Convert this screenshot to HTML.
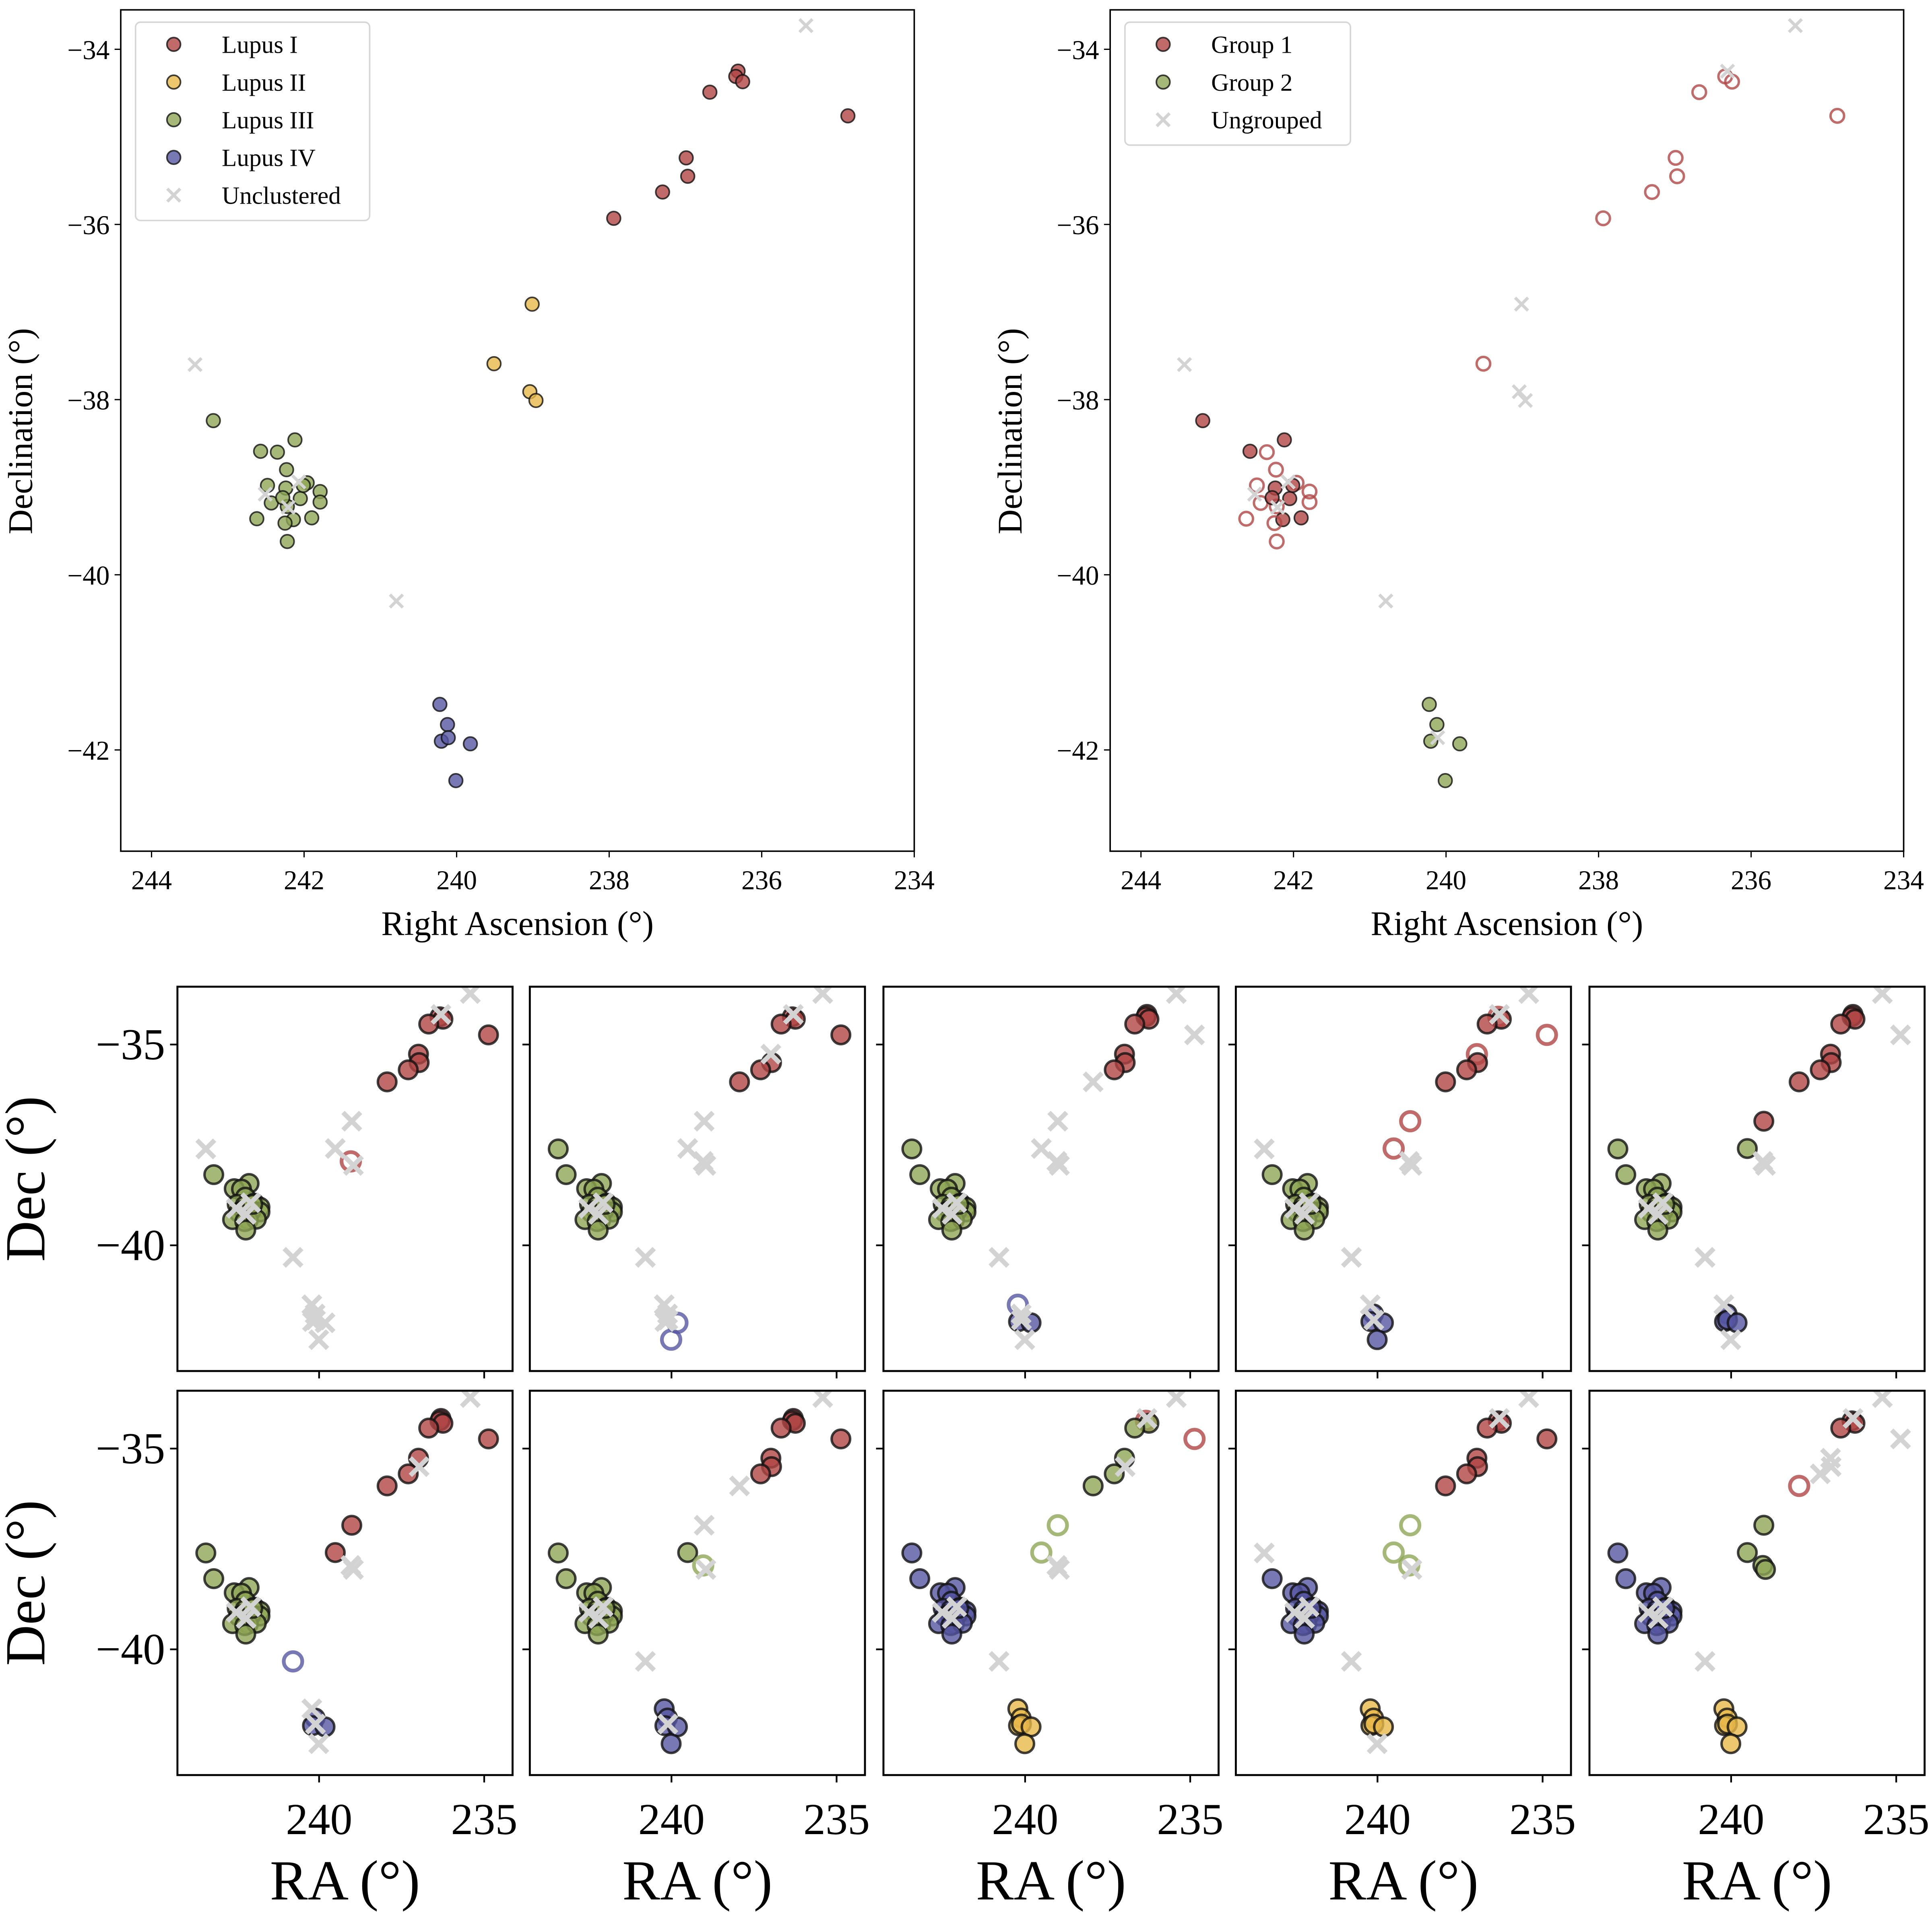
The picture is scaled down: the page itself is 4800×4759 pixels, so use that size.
<!DOCTYPE html>
<html><head><meta charset="utf-8"><style>
html,body{margin:0;padding:0;background:#fff}
svg{display:block}
text{font-family:"Liberation Serif",serif;fill:#000}
</style></head><body>
<svg id="fig" xmlns="http://www.w3.org/2000/svg" width="4800" height="4759" viewBox="0 0 1568 1554.6">
<rect width="1568" height="1554.6" fill="#fff"/>
<g id="layer"></g>
</svg>
<script>
// star coordinates (deg)
const ra = [236.31,236.34,236.25,236.68,234.87,236.99,236.97,237.30,237.94,
  239.01,239.51,239.04,238.96,
  243.19,242.12,242.57,242.35,242.23,242.48,242.24,241.96,241.79,241.79,242.05,242.43,242.22,242.28,242.62,242.14,242.25,241.90,242.22,242.01,
  242.51,242.07,242.21,
  240.22,240.12,240.20,240.11,239.82,240.01,
  235.42,243.43,240.79];
const dec = [-34.25,-34.31,-34.37,-34.49,-34.76,-35.24,-35.45,-35.63,-35.93,
  -36.91,-37.59,-37.91,-38.01,
  -38.24,-38.46,-38.59,-38.60,-38.80,-38.98,-39.01,-38.95,-39.05,-39.17,-39.13,-39.18,-39.22,-39.12,-39.36,-39.37,-39.41,-39.35,-39.62,-38.98,
  -39.08,-38.94,-39.23,
  -41.48,-41.71,-41.90,-41.86,-41.93,-42.35,
  -33.73,-37.60,-40.30];
// per-panel labels: r/y/g/b filled, R/Y/G/B hollow, x cross
const g20 = "gggggggggggggggggggg", b20 = "bbbbbbbbbbbbbbbbbbbb";
const labelsTopLeft = "rrrrrrrrr"+"yyyy"+g20+"xxx"+"bbbbbb"+"xxx";
const labelsTopRight = "xRRRRRRRR"+"xRxx"+"rrrRRRrRRRrRRrRrRrRr"+"xxx"+"gggxgg"+"xxx";
const labelsGrid = [
  "xrrrrrrrr"+"xxRx"+g20+"xxx"+"xxxxxx"+"xxx",
  "xrrrrxrrr"+"xxxx"+g20+"xxx"+"xxxxBB"+"xgx",
  "rrrrxrrrx"+"xxxx"+g20+"xxx"+"Bxbxbx"+"xgx",
  "xRrrRRrrr"+"RRxx"+g20+"xxx"+"xbbxbb"+"xxx",
  "rrrrxrrrr"+"rgxx"+g20+"xxx"+"xbbbbx"+"xgx",
  "rrrrrrxrr"+"rrxx"+g20+"xxx"+"xbbxbx"+"xgB",
  "rrrrrrrrx"+"xgGx"+g20+"xxx"+"bbbxbb"+"xgx",
  "xRggRgxgg"+"GGxx"+b20+"xxx"+"yyyyyy"+"xbx",
  "xrrrrrrrr"+"GGGx"+b20+"xxx"+"yyyyyx"+"xxx",
  "xrrrxxxxR"+"gggg"+b20+"xxx"+"yyyyyy"+"xbx"
];
const topXTicks = [244,242,240,238,236,234];
const topYTicks = [-34,-36,-38,-40,-42];
const gridXTicks = [240,235];
const gridYTicks = [-35,-40];
const legendLeft = ["Lupus I","Lupus II","Lupus III","Lupus IV","Unclustered"];
const legendLeftCodes = ["r","y","g","b","x"];
const legendRight = ["Group 1","Group 2","Ungrouped"];
const legendRightCodes = ["r","g","x"];

const COL = {r:"#b04545",y:"#e9b94a",g:"#8ea655",b:"#5656a3"};
const NS = "http://www.w3.org/2000/svg";
const layer = document.getElementById('layer');
function mk(tag, attrs, parent){const e=document.createElementNS(NS,tag);for(const k in attrs)e.setAttribute(k,attrs[k]);(parent||layer).appendChild(e);return e;}
function txt(str, attrs, parent){const e=mk('text',attrs,parent);e.textContent=str;return e;}
function fmt(v){return v<0?"\u2212"+Math.abs(v):String(v);}

function marker(g, cx, cy, code, r, sw){
  if(code==='x'){
    const d=r*0.95;
    const p=mk('path',{d:`M${cx-d},${cy-d}L${cx+d},${cy+d}M${cx-d},${cy+d}L${cx+d},${cy-d}`,stroke:"#d3d3d3","stroke-width":sw*1.9,fill:"none"},g);
    
    
    return;
  }
  const low=code.toLowerCase(), hollow=code!==low;
  const c=mk('circle',{cx:cx,cy:cy,r:r},g);
  if(hollow){c.setAttribute('fill','none');c.setAttribute('stroke',COL[low]);c.setAttribute('stroke-width',sw*1.5);c.setAttribute('stroke-opacity','0.8');}
  else{c.setAttribute('fill',COL[low]);c.setAttribute('fill-opacity','0.8');c.setAttribute('stroke','#111');c.setAttribute('stroke-opacity','0.8');c.setAttribute('stroke-width',sw);}
  
  
}

function drawPoints(g, labels, xf, yf, r, sw){
  for(let i=0;i<ra.length;i++){ if(labels[i]!=='x') marker(g,xf(ra[i]),yf(dec[i]),labels[i],r,sw); }
  for(let i=0;i<ra.length;i++){ if(labels[i]==='x') marker(g,xf(ra[i]),yf(dec[i]),'x',r,sw); }
}

function topPanel(L, labels, legNames, legCodes, legW, name){
  const g=mk('g',{});
  
  
  const R=L+644, T=8, B=691;
  const xf=v=>L+25+(244-v)*61.9, yf=v=>40+(-34-v)*71.1;
  const clip='clip'+L;
  const cp=mk('clipPath',{id:clip},g); mk('rect',{x:L,y:T,width:R-L,height:B-T},cp);
  const pg=mk('g',{'clip-path':`url(#${clip})`},g);
  drawPoints(pg,labels,xf,yf,5.5,1.3);
  const fr=mk('rect',{x:L,y:T,width:R-L,height:B-T,fill:"none",stroke:"#000","stroke-width":1.2},g);
   
  topXTicks.forEach(v=>{const x=xf(v);mk('line',{x1:x,x2:x,y1:B,y2:B+5,stroke:"#000","stroke-width":1},g);
    const t=txt(String(v),{x:x,y:B+31,"font-size":22,"text-anchor":"middle"},g);});
  topYTicks.forEach(v=>{const y=yf(v);mk('line',{x1:L-5,x2:L,y1:y,y2:y,stroke:"#000","stroke-width":1},g);
    const t=txt(fmt(v),{x:L-9,y:y+8,"font-size":22,"text-anchor":"end"},g);});
  const xl=txt("Right Ascension (°)",{x:(L+R)/2,y:759,"font-size":28,"text-anchor":"middle"},g);
   
  const yl=txt("Declination (°)",{x:0,y:0,"font-size":28,"text-anchor":"middle",transform:`translate(${L-72},350) rotate(-90)`},g);
   
  const lg=mk('g',{},g);  
  mk('rect',{x:L+12,y:18,width:legW,height:legNames.length*30.6+8,rx:4,fill:"#fff","fill-opacity":0.8,stroke:"#d6d6d6","stroke-width":1.2},lg);
  legNames.forEach((n,i)=>{const y=36+i*30.6; const e=mk('g',{},lg);
     
    marker(e,L+43,y,legCodes[i],5.5,1.3);
    txt(n,{x:L+82,y:y+7,"font-size":20},e);});
}
topPanel(98, labelsTopLeft, legendLeft, legendLeftCodes, 190, 'lupus-clouds-panel');
topPanel(901, labelsTopRight, legendRight, legendRightCodes, 183, 'groups-panel');

const colL=[144,430,717,1003,1290], rowT=[801,1129];
labelsGrid.forEach((labels,k)=>{
  const c=k%5, rr=Math.floor(k/5), L=colL[c], T=rowT[rr], W=272, H=312;
  const g=mk('g',{});
  
  
  const xf=v=>L+(244.29-v)*26.8, yf=v=>T+(-33.56-v)*32.6;
  const clip='gclip'+k;
  const cp=mk('clipPath',{id:clip},g); mk('rect',{x:L,y:T,width:W,height:H},cp);
  const pg=mk('g',{'clip-path':`url(#${clip})`},g);
  drawPoints(pg,labels,xf,yf,7.5,2);
  mk('rect',{x:L,y:T,width:W,height:H,fill:"none",stroke:"#000","stroke-width":1.6},g);
  gridXTicks.forEach(v=>{const x=xf(v);mk('line',{x1:x,x2:x,y1:T+H,y2:T+H+6,stroke:"#000","stroke-width":1.4},g);
    if(rr===1){const t=txt(String(v),{x:x,y:1489,"font-size":36,"text-anchor":"middle"},g);}});
  gridYTicks.forEach(v=>{const y=yf(v);mk('line',{x1:L-6,x2:L,y1:y,y2:y,stroke:"#000","stroke-width":1.4},g);
    if(c===0){const t=txt(fmt(v),{x:L-10,y:y+12,"font-size":36,"text-anchor":"end"},g);}});
  if(rr===1){const t=txt("RA (°)",{x:L+W/2,y:1542,"font-size":46,"text-anchor":"middle"},g);}
  if(c===0){const t=txt("Dec (°)",{x:0,y:0,"font-size":46,"text-anchor":"middle",transform:`translate(36,${T+H/2}) rotate(-90)`},g);}
});
</script>
</body></html>
